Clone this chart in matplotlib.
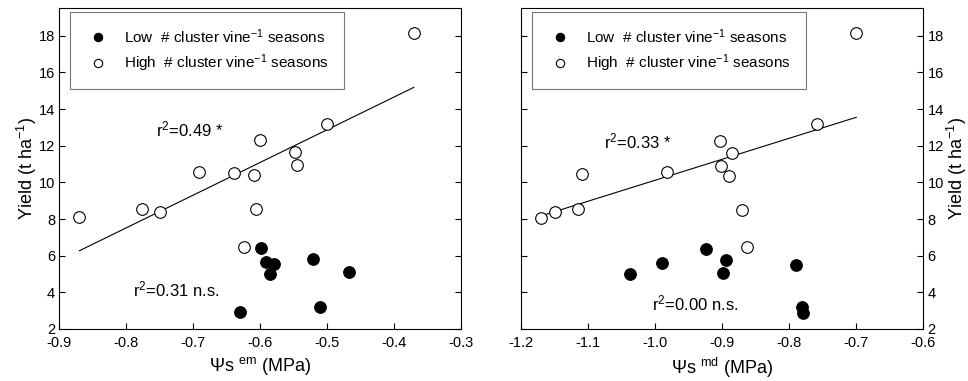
import numpy as np
import matplotlib
matplotlib.use("Agg")
import matplotlib.pyplot as plt
from matplotlib.lines import Line2D

plt.rcParams['font.family'] = ['Liberation Sans', 'DejaVu Sans']
plt.rcParams['mathtext.fontset'] = 'custom'
plt.rcParams['mathtext.rm'] = 'Liberation Sans'
plt.rcParams['mathtext.it'] = 'Liberation Sans'
plt.rcParams['mathtext.bf'] = 'Liberation Sans:bold'

# left panel: stem water potential at early morning
em_high_x = [-0.870, -0.777, -0.750, -0.692, -0.640, -0.610, -0.600, -0.606, -0.624, -0.549, -0.545, -0.500, -0.371]
em_high_y = [8.09, 8.55, 8.40, 10.58, 10.49, 10.40, 12.31, 8.53, 6.49, 11.65, 10.95, 13.18, 18.16]
em_low_x = [-0.599, -0.591, -0.580, -0.586, -0.521, -0.468, -0.631, -0.511]
em_low_y = [6.42, 5.65, 5.53, 5.02, 5.80, 5.09, 2.95, 3.20]
em_fit = (17.86, 21.81)  # slope, intercept

# right panel: midday
md_high_x = [-1.170, -1.150, -1.115, -1.109, -0.983, -0.904, -0.902, -0.886, -0.890, -0.871, -0.863, -0.759, -0.700]
md_high_y = [8.04, 8.40, 8.53, 10.47, 10.56, 12.27, 10.91, 11.62, 10.36, 8.49, 6.45, 13.16, 18.15]
md_low_x = [-1.038, -0.990, -0.925, -0.894, -0.899, -0.790, -0.781, -0.780]
md_low_y = [5.00, 5.62, 6.38, 5.76, 5.04, 5.49, 3.18, 2.89]
md_fit = (11.44, 21.56)

low_label = 'Low  # cluster vine$^{-1}$ seasons'
high_label = 'High  # cluster vine$^{-1}$ seasons'
ylabel = 'Yield (t ha$^{-1}$)'

fig = plt.figure(figsize=(9.68, 3.81), dpi=100)
ax1 = fig.add_axes([0.0613, 0.1365, 0.4153, 0.8417])
ax2 = fig.add_axes([0.5385, 0.1365, 0.4153, 0.8417])


def panel(ax, hx, hy, lx, ly, fit, xlim, xticks, xlabel, txt_hi, txt_lo, side):
    x0, x1 = min(hx), max(hx)
    ax.plot([x0, x1], [fit[0] * x0 + fit[1], fit[0] * x1 + fit[1]],
            color='black', lw=0.8, zorder=1)
    ax.scatter(lx, ly, s=70, facecolor='black', edgecolor='black', lw=0.8, zorder=3)
    ax.scatter(hx, hy, s=70, facecolor='white', edgecolor='black', lw=0.8, zorder=3)
    ax.set_xlim(xlim)
    ax.set_ylim(2, 19.5)
    ax.set_xticks(xticks)
    ax.set_yticks(np.arange(2, 19, 2))
    ax.tick_params(direction='in', length=4, width=0.8, labelsize=10.5, pad=3,
                   left=True, right=True, top=False)
    ax.tick_params(axis='x', pad=5)
    if side == 'right':
        ax.yaxis.tick_right()
        ax.tick_params(axis='y', left=True, right=True, direction='in', length=4)
        ax.yaxis.set_label_position('right')
        ax.set_ylabel(ylabel, fontsize=13, labelpad=1)
    else:
        ax.set_ylabel(ylabel, fontsize=13, labelpad=0)
    ax.set_xlabel(xlabel, fontsize=13, labelpad=4)
    for sp in ax.spines.values():
        sp.set_linewidth(0.8)
    ax.text(txt_hi[0], txt_hi[1], txt_hi[2], fontsize=12)
    ax.text(txt_lo[0], txt_lo[1], txt_lo[2], fontsize=12)
    handles = [Line2D([], [], ls='none', marker='o', ms=6, mfc='black', mec='black', mew=0.8),
               Line2D([], [], ls='none', marker='o', ms=6, mfc='white', mec='black', mew=0.8)]
    leg = ax.legend(handles, [low_label, high_label], loc='upper left',
                    bbox_to_anchor=(0.027, 0.989), fontsize=11, frameon=True,
                    fancybox=False, edgecolor='#555555', borderpad=1.0,
                    handlelength=1.7, handletextpad=0.8, labelspacing=0.45,
                    borderaxespad=0)
    leg.get_frame().set_linewidth(0.8)


panel(ax1, em_high_x, em_high_y, em_low_x, em_low_y, em_fit, (-0.9, -0.3),
      [-0.9, -0.8, -0.7, -0.6, -0.5, -0.4, -0.3], 'Ψs $^{\\rm em}$ (MPa)',
      (-0.755, 12.5, 'r$^2$=0.49 *'), (-0.790, 3.76, 'r$^2$=0.31 n.s.'), 'left')
ax1.set_xticklabels(['-0.9', '-0.8', '-0.7', '-0.6', '-0.5', '-0.4', '-0.3'])

panel(ax2, md_high_x, md_high_y, md_low_x, md_low_y, md_fit, (-1.2, -0.6),
      [-1.2, -1.1, -1.0, -0.9, -0.8, -0.7, -0.6], 'Ψs $^{\\rm md}$ (MPa)',
      (-1.076, 11.85, 'r$^2$=0.33 *'), (-1.005, 3.04, 'r$^2$=0.00 n.s.'), 'right')
ax2.set_xticklabels(['-1.2', '-1.1', '-1.0', '-0.9', '-0.8', '-0.7', '-0.6'])

fig.savefig('out.png', dpi=100)
